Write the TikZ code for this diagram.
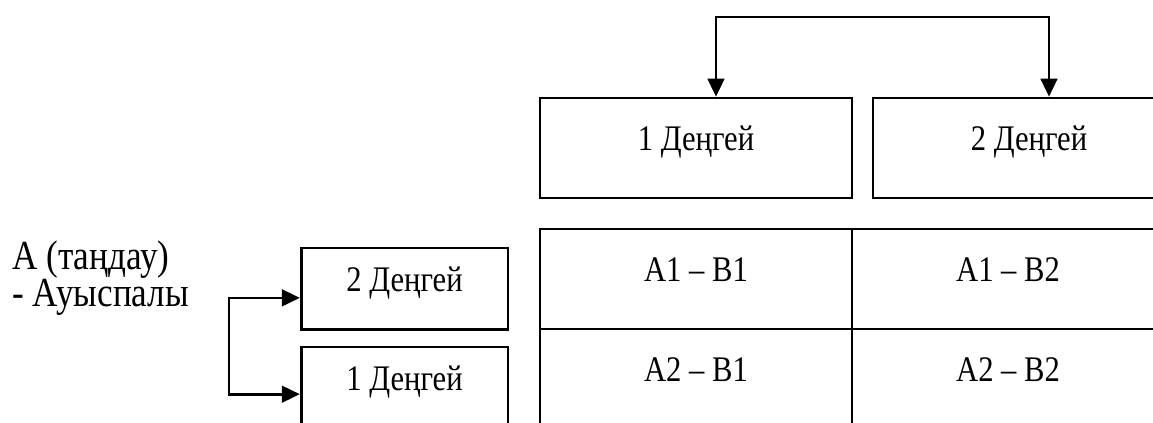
\documentclass[tikz,border=0pt]{standalone}
\usepackage{fontspec}
\setmainfont{Liberation Serif}[FakeStretch=0.85]
\usepackage{tikz}
\usetikzlibrary{positioning, arrows.meta}

\begin{document}
\begin{tikzpicture}[x=0.75pt, y=-0.75pt,
  box/.style={draw, line width=2pt, minimum width=234pt, minimum height=75pt, inner sep=0pt, text height=18pt, text depth=15pt, font=\fontsize{27}{32}\selectfont},
  sidebox/.style={box, minimum width=155pt, minimum height=61pt, text depth=14pt},
  conn/.style={line width=2pt, -{Triangle[length=13.5pt, width=12.5pt]}}]
\useasboundingbox (0,0) rectangle (1153,422);
\clip (0,0) rectangle (1153,422);

% levels of B
\node[box] (b1) at (696,148) {1 Деңгей};
\node[box] (b2) at (1029,148) {2 Деңгей};

% A x B
\node[box] (c11) at (696,279) {A1 -- B1};
\node[box] (c12) at (1008,279) {A1 -- B2};
\node[box] (c21) at (696,379) {A2 -- B1};
\node[box] (c22) at (1008,379) {A2 -- B2};

% levels of A
\node[sidebox] (a2) at (404.5,288.5) {2 Деңгей};
\node[sidebox] (a1) at (404.5,387.5) {1 Деңгей};
\node[anchor=west, align=left, inner sep=0pt, font=\fontsize{31}{23}\selectfont] (fa) at (12,278) {А (таңдау)\\- Ауыспалы};

\coordinate (fork) at (229,346);
\draw[conn] (fork) |- ([yshift=-7pt]a2.west);
\draw[conn] (fork) |- ([yshift=-5pt]a1.west);
\coordinate (bar) at (882,17);
\draw[conn] (bar) -| ([xshift=15pt]b1.north);
\draw[conn] (bar) -| ([xshift=15pt]b2.north);

\end{tikzpicture}
\end{document}
